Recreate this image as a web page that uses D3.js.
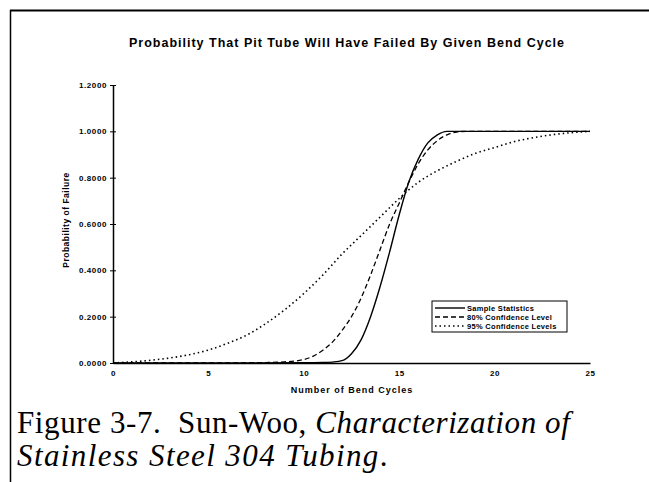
<!DOCTYPE html>
<html><head><meta charset="utf-8">
<script src="https://cdn.jsdelivr.net/npm/d3@7"></script>
<style>body{margin:0;background:#fff}svg{display:block}</style>
</head><body>
<svg id="c" width="649" height="482"></svg>
<script>
const xTicks = [0,5,10,15,20,25];
const yTicks = [0,0.2,0.4,0.6,0.8,1.0,1.2];
const sampleX = [0,5,10,11,11.5,12,12.5,13,13.5,14,14.5,15,15.5,16,16.5,17,17.5,18,20,25];
const sampleY = [0,0,0.001,0.002,0.004,0.01,0.04,0.1,0.2,0.33,0.48,0.64,0.78,0.88,0.95,0.985,1.0,1.0,1.0,1.0];
const conf80X = [0,5,7,8,9,10,10.5,11,11.5,12,12.5,13,13.5,14,14.5,15,15.5,16,16.5,17,17.5,18,18.5,20,25];
const conf80Y = [0,0,0.001,0.002,0.005,0.015,0.03,0.055,0.09,0.14,0.2,0.28,0.38,0.49,0.6,0.69,0.78,0.86,0.92,0.96,0.985,0.997,1.0,1.0,1.0];
const conf95X = [0,1,2,3,4,5,6,7,8,9,10,11,12,13,14,15,16,17,18,19,20,21,22,23,24,25];
const conf95Y = [0,0.005,0.012,0.022,0.036,0.056,0.085,0.12,0.17,0.23,0.3,0.38,0.47,0.55,0.63,0.71,0.78,0.83,0.87,0.905,0.93,0.955,0.972,0.985,0.994,1.0];
const legendLabels = ["Sample Statistics","80% Confidence Level","95% Confidence Levels"];

const svg = d3.select("#c");
const x = d3.scaleLinear().domain([0,25]).range([113,590]);
const y = d3.scaleLinear().domain([0,1.2]).range([363,85]);
const SANS = "Liberation Sans, Arial";

// frame
svg.append("line").attr("x1",10).attr("x2",649).attr("y1",10.5).attr("y2",10.5).attr("stroke","#000").attr("stroke-width",2);
svg.append("line").attr("x1",10.5).attr("x2",10.5).attr("y1",10).attr("y2",482).attr("stroke","#000").attr("stroke-width",1.5);

svg.append("text").attr("x",347).attr("y",47).attr("text-anchor","middle")
  .attr("font-family",SANS).attr("font-weight","bold").attr("font-size",12.5).attr("letter-spacing",1)
  .text("Probability That Pit Tube Will Have Failed By Given Bend Cycle");

const ya = svg.append("g").attr("transform","translate(113,0)")
  .call(d3.axisLeft(y).tickValues(yTicks).tickFormat(d3.format(".4f")).tickSizeInner(3).tickSizeOuter(0).tickPadding(3));
ya.selectAll(".tick line").attr("x2",-3).attr("x1",3);
const xa = svg.append("g").attr("transform","translate(0,363)")
  .call(d3.axisBottom(x).tickValues(xTicks).tickFormat(d3.format("d")).tickSize(0).tickPadding(7));
[ya,xa].forEach(a=>{a.select(".domain").attr("stroke-width",1.5);
  a.selectAll("text").attr("font-family",SANS).attr("font-size",8).attr("font-weight","bold").attr("letter-spacing",0.6);});

svg.append("text").attr("transform","translate(69,220) rotate(-90)").attr("text-anchor","middle")
  .attr("font-family",SANS).attr("font-size",8.5).attr("font-weight","bold").attr("letter-spacing",0.5).text("Probability of Failure");
svg.append("text").attr("x",352).attr("y",393).attr("text-anchor","middle")
  .attr("font-family",SANS).attr("font-size",9).attr("font-weight","bold").attr("letter-spacing",1).text("Number of Bend Cycles");

const line = d3.line().x(d=>x(d[0])).y(d=>y(d[1])).curve(d3.curveMonotoneX);
const series = [
  {xs:sampleX, ys:sampleY, dash:null, w:1.4},
  {xs:conf80X, ys:conf80Y, dash:"5,3", w:1.3},
  {xs:conf95X, ys:conf95Y, dash:"1.5,3", w:1.6}
];
series.forEach(s=>{
  svg.append("path").datum(s.xs.map((v,i)=>[v,s.ys[i]])).attr("d",line)
    .attr("fill","none").attr("stroke","#000").attr("stroke-width",s.w).attr("stroke-dasharray",s.dash);
});

// legend
const lg = svg.append("g").attr("transform","translate(432,301)");
lg.append("rect").attr("width",135).attr("height",31).attr("fill","#fff").attr("stroke","#000").attr("stroke-width",1);
legendLabels.forEach((t,i)=>{
  const yy = 7+i*9;
  lg.append("line").attr("x1",3).attr("x2",33).attr("y1",yy).attr("y2",yy).attr("stroke","#000")
    .attr("stroke-width",series[i].w).attr("stroke-dasharray",series[i].dash);
  lg.append("text").attr("x",35).attr("y",yy+2.7).attr("font-family",SANS)
    .attr("font-size",7.5).attr("font-weight","bold").attr("letter-spacing",0.3).text(t);
});

// caption
const SERIF = "Liberation Serif, Times New Roman";
const cap = svg.append("text").attr("font-family",SERIF).attr("font-size",31).attr("letter-spacing",0.6);
cap.append("tspan").attr("x",17).attr("y",433).text("Figure 3-7.\u00a0 Sun-Woo, ");
cap.append("tspan").attr("font-style","italic").text("Characterization of");
const cap2 = svg.append("text").attr("font-family",SERIF).attr("font-size",31).attr("letter-spacing",1.4);
cap2.append("tspan").attr("x",17).attr("y",466).attr("font-style","italic").text("Stainless Steel 304 Tubing");
cap2.append("tspan").text(".");
</script>
</body></html>
